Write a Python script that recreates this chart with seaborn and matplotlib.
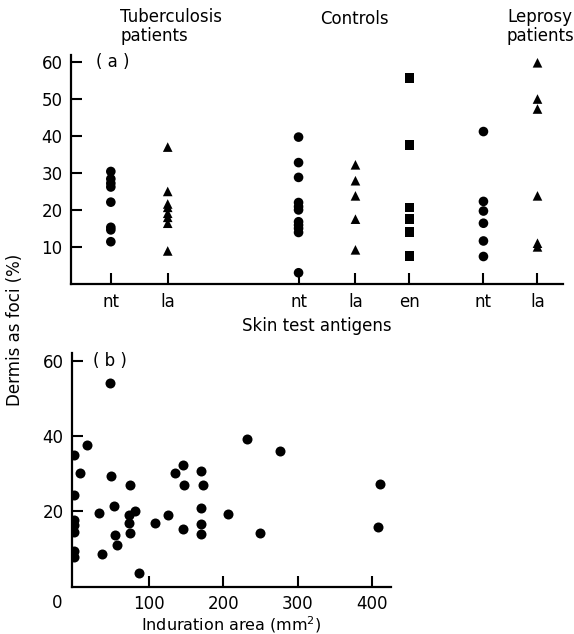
import pandas as pd
import seaborn as sns
import matplotlib.pyplot as plt

# panel (a): dermis as foci (%) by skin test antigen
antigen_labels = ["nt", "la", "nt", "la", "en", "nt", "la"]
antigen_positions = [0.7, 1.7, 4.0, 5.0, 5.95, 7.25, 8.2]
tb_nt = [30.5, 28.5, 27.3, 26.3, 22.2, 15.4, 14.7, 11.5]
tb_la = [37.1, 25.1, 21.7, 20.8, 19.2, 18.1, 16.5, 9.0]
ctrl_nt = [39.8, 32.9, 28.9, 22.1, 21.0, 20.1, 16.9, 16.0, 15.1, 14.0, 3.1]
ctrl_la = [32.3, 28.0, 23.9, 17.6, 9.3]
ctrl_en = [55.8, 37.7, 20.8, 17.6, 14.2, 7.6]
lep_nt = [41.3, 22.4, 19.8, 16.5, 11.7, 7.5]
lep_la = [59.9, 50.1, 47.4, 23.9, 11.1, 10.1]

# panel (b): dermis as foci (%) vs induration area (mm2)
induration_area = [18, 0, 8, 50, 75, 0, 54, 34, 82, 74, 74, 0, 0, 0, 55, 75, 58, 38,
                   0, 0, 87.5, 108.5, 125.5, 136, 146, 148, 146, 170, 172.6, 170, 171,
                   170, 207, 232, 249, 276, 410, 408, 48.4]
dermis_b = [37.5, 35.0, 30.3, 29.5, 27.1, 24.2, 21.3, 19.6, 20.2, 19.1, 16.9, 17.7,
            16.4, 14.6, 13.7, 14.3, 11.1, 8.6, 9.5, 7.9, 3.7, 16.9, 19.1, 30.3, 32.4,
            27.1, 15.3, 30.6, 27.1, 21.0, 16.5, 13.9, 19.3, 39.1, 14.3, 36.1, 27.3,
            15.7, 54.0]

groups = [tb_nt, tb_la, ctrl_nt, ctrl_la, ctrl_en, lep_nt, lep_la]
rows = []
for pos, lab, vals in zip(antigen_positions, antigen_labels, groups):
    for v in vals:
        rows.append({"pos": pos, "antigen": lab, "value": v})
df_a = pd.DataFrame(rows)
df_b = pd.DataFrame({"area": induration_area, "dermis": dermis_b})

sns.set_style("ticks")
plt.rcParams["font.family"] = ["DejaVu Sans"]
plt.rcParams["font.size"] = 12
for key in ("text.color", "axes.labelcolor", "xtick.color", "ytick.color", "axes.edgecolor"):
    plt.rcParams[key] = "black"

fig = plt.figure(figsize=(5.74, 6.34), dpi=100)
ax_a = fig.add_axes([0.1237, 0.5517, 0.8573, 0.3615])
ax_b = fig.add_axes([0.125, 0.0749, 0.556, 0.3678])

sns.scatterplot(data=df_a, x="pos", y="value", style="antigen",
                markers={"nt": "o", "la": "^", "en": "s"}, color="black",
                s=48, edgecolor="black", linewidth=0, legend=False, ax=ax_a)
sns.scatterplot(data=df_b, x="area", y="dermis", marker="o", color="black",
                s=52, edgecolor="black", linewidth=0, legend=False, ax=ax_b)

for ax in (ax_a, ax_b):
    sns.despine(ax=ax)
    for side in ("left", "bottom"):
        ax.spines[side].set_linewidth(1.6)
    ax.tick_params(direction="in", length=8, width=1.5, labelsize=12, pad=6)
    ax.set_ylabel("")

ax_a.set_xlim(0, 8.65)
ax_a.set_ylim(0, 62)
ax_a.set_xticks(antigen_positions)
ax_a.set_xticklabels(antigen_labels)
ax_a.set_yticks([10, 20, 30, 40, 50, 60])
ax_a.set_xlabel("Skin test antigens", fontsize=12, labelpad=5)
ax_a.text(0.05, 60, "( a )", fontsize=12, va="center", transform=ax_a.get_yaxis_transform())

ax_b.set_xlim(-3, 425)
ax_b.set_ylim(0, 62)
ax_b.set_xticks([100, 200, 300, 400])
ax_b.set_yticks([20, 40, 60])
ax_b.set_xlabel("Induration area (mm$^2$)", fontsize=11.5, labelpad=1)
ax_b.text(0.067, 60, "( b )", fontsize=12, va="center", transform=ax_b.get_yaxis_transform())

fig.text(57 / 574, 1 - 603 / 634, "0", fontsize=12, ha="center", va="center")

fig.text(120 / 574, 1 - 8 / 634, "Tuberculosis\npatients", fontsize=12, ha="left", va="top", linespacing=1.1)
fig.text(354 / 574, 1 - 10 / 634, "Controls", fontsize=12, ha="center", va="top")
fig.text(507 / 574, 1 - 8 / 634, "Leprosy\npatients", fontsize=12, ha="left", va="top", linespacing=1.1)
fig.text(15 / 574, 1 - 330 / 634, "Dermis as foci (%)", fontsize=12, rotation=90, ha="center", va="center")

fig.savefig("out.png", dpi=100)
